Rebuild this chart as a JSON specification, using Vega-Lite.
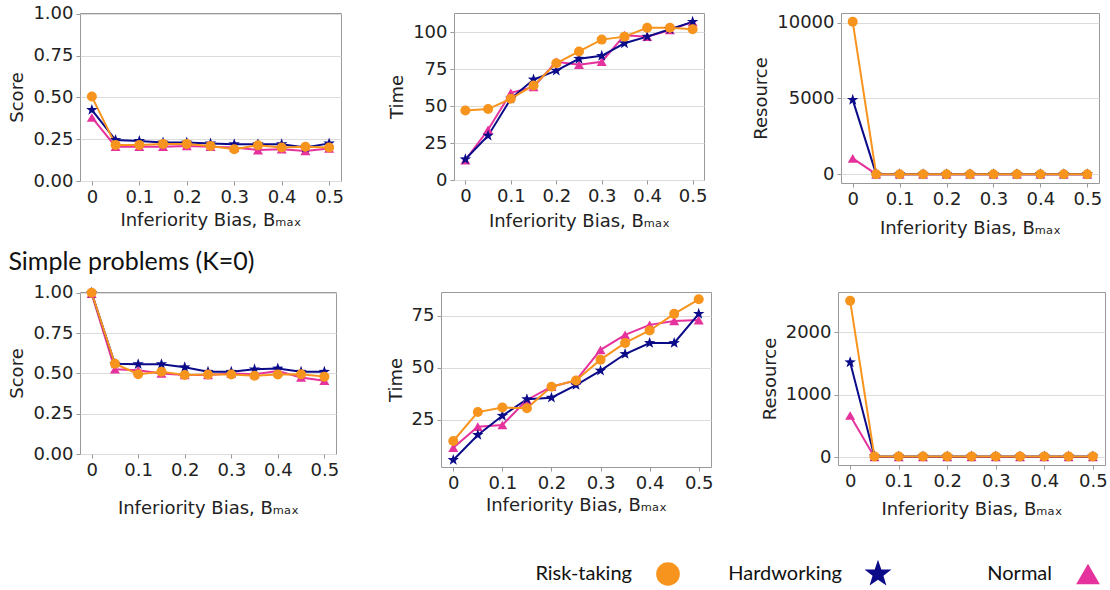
{
  "padding": {"left": 8, "top": 4, "right": 0, "bottom": 0},
  "data": {"values": [
    {"p": 1, "b": 0, "s": "Norm", "v": 0.38}, {"p": 1, "b": 0, "s": "Hard", "v": 0.425}, {"p": 1, "b": 0, "s": "Risk", "v": 0.505},
    {"p": 1, "b": 0.05, "s": "Norm", "v": 0.205}, {"p": 1, "b": 0.05, "s": "Hard", "v": 0.245}, {"p": 1, "b": 0.05, "s": "Risk", "v": 0.216},
    {"p": 1, "b": 0.1, "s": "Norm", "v": 0.205}, {"p": 1, "b": 0.1, "s": "Hard", "v": 0.24}, {"p": 1, "b": 0.1, "s": "Risk", "v": 0.216},
    {"p": 1, "b": 0.15, "s": "Norm", "v": 0.205}, {"p": 1, "b": 0.15, "s": "Hard", "v": 0.23}, {"p": 1, "b": 0.15, "s": "Risk", "v": 0.222},
    {"p": 1, "b": 0.2, "s": "Norm", "v": 0.21}, {"p": 1, "b": 0.2, "s": "Hard", "v": 0.23}, {"p": 1, "b": 0.2, "s": "Risk", "v": 0.222},
    {"p": 1, "b": 0.25, "s": "Norm", "v": 0.205}, {"p": 1, "b": 0.25, "s": "Hard", "v": 0.225}, {"p": 1, "b": 0.25, "s": "Risk", "v": 0.21},
    {"p": 1, "b": 0.3, "s": "Norm", "v": 0.2}, {"p": 1, "b": 0.3, "s": "Hard", "v": 0.22}, {"p": 1, "b": 0.3, "s": "Risk", "v": 0.19},
    {"p": 1, "b": 0.35, "s": "Norm", "v": 0.185}, {"p": 1, "b": 0.35, "s": "Hard", "v": 0.22}, {"p": 1, "b": 0.35, "s": "Risk", "v": 0.214},
    {"p": 1, "b": 0.4, "s": "Norm", "v": 0.19}, {"p": 1, "b": 0.4, "s": "Hard", "v": 0.22}, {"p": 1, "b": 0.4, "s": "Risk", "v": 0.2},
    {"p": 1, "b": 0.45, "s": "Norm", "v": 0.18}, {"p": 1, "b": 0.45, "s": "Hard", "v": 0.2}, {"p": 1, "b": 0.45, "s": "Risk", "v": 0.205},
    {"p": 1, "b": 0.5, "s": "Norm", "v": 0.195}, {"p": 1, "b": 0.5, "s": "Hard", "v": 0.225}, {"p": 1, "b": 0.5, "s": "Risk", "v": 0.2},

    {"p": 2, "b": 0, "s": "Norm", "v": 13.5}, {"p": 2, "b": 0, "s": "Hard", "v": 14}, {"p": 2, "b": 0, "s": "Risk", "v": 47},
    {"p": 2, "b": 0.05, "s": "Norm", "v": 34}, {"p": 2, "b": 0.05, "s": "Hard", "v": 30}, {"p": 2, "b": 0.05, "s": "Risk", "v": 48},
    {"p": 2, "b": 0.1, "s": "Norm", "v": 59}, {"p": 2, "b": 0.1, "s": "Hard", "v": 55}, {"p": 2, "b": 0.1, "s": "Risk", "v": 55},
    {"p": 2, "b": 0.15, "s": "Norm", "v": 63}, {"p": 2, "b": 0.15, "s": "Hard", "v": 68}, {"p": 2, "b": 0.15, "s": "Risk", "v": 64},
    {"p": 2, "b": 0.2, "s": "Norm", "v": 80}, {"p": 2, "b": 0.2, "s": "Hard", "v": 74}, {"p": 2, "b": 0.2, "s": "Risk", "v": 79},
    {"p": 2, "b": 0.25, "s": "Norm", "v": 78}, {"p": 2, "b": 0.25, "s": "Hard", "v": 82}, {"p": 2, "b": 0.25, "s": "Risk", "v": 87},
    {"p": 2, "b": 0.3, "s": "Norm", "v": 80}, {"p": 2, "b": 0.3, "s": "Hard", "v": 84}, {"p": 2, "b": 0.3, "s": "Risk", "v": 95},
    {"p": 2, "b": 0.35, "s": "Norm", "v": 98}, {"p": 2, "b": 0.35, "s": "Hard", "v": 92.5}, {"p": 2, "b": 0.35, "s": "Risk", "v": 97},
    {"p": 2, "b": 0.4, "s": "Norm", "v": 97}, {"p": 2, "b": 0.4, "s": "Hard", "v": 97}, {"p": 2, "b": 0.4, "s": "Risk", "v": 103},
    {"p": 2, "b": 0.45, "s": "Norm", "v": 101.5}, {"p": 2, "b": 0.45, "s": "Hard", "v": 102}, {"p": 2, "b": 0.45, "s": "Risk", "v": 103},
    {"p": 2, "b": 0.5, "s": "Norm", "v": 107}, {"p": 2, "b": 0.5, "s": "Hard", "v": 107}, {"p": 2, "b": 0.5, "s": "Risk", "v": 102},

    {"p": 3, "b": 0, "s": "Norm", "v": 1040}, {"p": 3, "b": 0, "s": "Hard", "v": 4900}, {"p": 3, "b": 0, "s": "Risk", "v": 10050},
    {"p": 3, "b": 0.05, "s": "Norm", "v": 0}, {"p": 3, "b": 0.05, "s": "Hard", "v": 0}, {"p": 3, "b": 0.05, "s": "Risk", "v": 0},
    {"p": 3, "b": 0.1, "s": "Norm", "v": 0}, {"p": 3, "b": 0.1, "s": "Hard", "v": 0}, {"p": 3, "b": 0.1, "s": "Risk", "v": 0},
    {"p": 3, "b": 0.15, "s": "Norm", "v": 0}, {"p": 3, "b": 0.15, "s": "Hard", "v": 0}, {"p": 3, "b": 0.15, "s": "Risk", "v": 0},
    {"p": 3, "b": 0.2, "s": "Norm", "v": 0}, {"p": 3, "b": 0.2, "s": "Hard", "v": 0}, {"p": 3, "b": 0.2, "s": "Risk", "v": 0},
    {"p": 3, "b": 0.25, "s": "Norm", "v": 0}, {"p": 3, "b": 0.25, "s": "Hard", "v": 0}, {"p": 3, "b": 0.25, "s": "Risk", "v": 0},
    {"p": 3, "b": 0.3, "s": "Norm", "v": 0}, {"p": 3, "b": 0.3, "s": "Hard", "v": 0}, {"p": 3, "b": 0.3, "s": "Risk", "v": 0},
    {"p": 3, "b": 0.35, "s": "Norm", "v": 0}, {"p": 3, "b": 0.35, "s": "Hard", "v": 0}, {"p": 3, "b": 0.35, "s": "Risk", "v": 0},
    {"p": 3, "b": 0.4, "s": "Norm", "v": 0}, {"p": 3, "b": 0.4, "s": "Hard", "v": 0}, {"p": 3, "b": 0.4, "s": "Risk", "v": 0},
    {"p": 3, "b": 0.45, "s": "Norm", "v": 0}, {"p": 3, "b": 0.45, "s": "Hard", "v": 0}, {"p": 3, "b": 0.45, "s": "Risk", "v": 0},
    {"p": 3, "b": 0.5, "s": "Norm", "v": 0}, {"p": 3, "b": 0.5, "s": "Hard", "v": 0}, {"p": 3, "b": 0.5, "s": "Risk", "v": 0},

    {"p": 4, "b": 0, "s": "Norm", "v": 0.995}, {"p": 4, "b": 0, "s": "Hard", "v": 1.0}, {"p": 4, "b": 0, "s": "Risk", "v": 1.0},
    {"p": 4, "b": 0.05, "s": "Norm", "v": 0.526}, {"p": 4, "b": 0.05, "s": "Hard", "v": 0.56}, {"p": 4, "b": 0.05, "s": "Risk", "v": 0.56},
    {"p": 4, "b": 0.1, "s": "Norm", "v": 0.52}, {"p": 4, "b": 0.1, "s": "Hard", "v": 0.557}, {"p": 4, "b": 0.1, "s": "Risk", "v": 0.495},
    {"p": 4, "b": 0.15, "s": "Norm", "v": 0.5}, {"p": 4, "b": 0.15, "s": "Hard", "v": 0.557}, {"p": 4, "b": 0.15, "s": "Risk", "v": 0.51},
    {"p": 4, "b": 0.2, "s": "Norm", "v": 0.49}, {"p": 4, "b": 0.2, "s": "Hard", "v": 0.538}, {"p": 4, "b": 0.2, "s": "Risk", "v": 0.49},
    {"p": 4, "b": 0.25, "s": "Norm", "v": 0.49}, {"p": 4, "b": 0.25, "s": "Hard", "v": 0.51}, {"p": 4, "b": 0.25, "s": "Risk", "v": 0.493},
    {"p": 4, "b": 0.3, "s": "Norm", "v": 0.5}, {"p": 4, "b": 0.3, "s": "Hard", "v": 0.51}, {"p": 4, "b": 0.3, "s": "Risk", "v": 0.493},
    {"p": 4, "b": 0.35, "s": "Norm", "v": 0.495}, {"p": 4, "b": 0.35, "s": "Hard", "v": 0.525}, {"p": 4, "b": 0.35, "s": "Risk", "v": 0.485},
    {"p": 4, "b": 0.4, "s": "Norm", "v": 0.515}, {"p": 4, "b": 0.4, "s": "Hard", "v": 0.53}, {"p": 4, "b": 0.4, "s": "Risk", "v": 0.493},
    {"p": 4, "b": 0.45, "s": "Norm", "v": 0.475}, {"p": 4, "b": 0.45, "s": "Hard", "v": 0.51}, {"p": 4, "b": 0.45, "s": "Risk", "v": 0.495},
    {"p": 4, "b": 0.5, "s": "Norm", "v": 0.455}, {"p": 4, "b": 0.5, "s": "Hard", "v": 0.51}, {"p": 4, "b": 0.5, "s": "Risk", "v": 0.48},

    {"p": 5, "b": 0, "s": "Norm", "v": 11.7}, {"p": 5, "b": 0, "s": "Hard", "v": 5.8}, {"p": 5, "b": 0, "s": "Risk", "v": 14.9},
    {"p": 5, "b": 0.05, "s": "Norm", "v": 21.8}, {"p": 5, "b": 0.05, "s": "Hard", "v": 17.8}, {"p": 5, "b": 0.05, "s": "Risk", "v": 28.8},
    {"p": 5, "b": 0.1, "s": "Norm", "v": 22.6}, {"p": 5, "b": 0.1, "s": "Hard", "v": 27}, {"p": 5, "b": 0.1, "s": "Risk", "v": 31},
    {"p": 5, "b": 0.15, "s": "Norm", "v": 34.6}, {"p": 5, "b": 0.15, "s": "Hard", "v": 35}, {"p": 5, "b": 0.15, "s": "Risk", "v": 30.6},
    {"p": 5, "b": 0.2, "s": "Norm", "v": 41}, {"p": 5, "b": 0.2, "s": "Hard", "v": 35.7}, {"p": 5, "b": 0.2, "s": "Risk", "v": 41},
    {"p": 5, "b": 0.25, "s": "Norm", "v": 44}, {"p": 5, "b": 0.25, "s": "Hard", "v": 41.8}, {"p": 5, "b": 0.25, "s": "Risk", "v": 44},
    {"p": 5, "b": 0.3, "s": "Norm", "v": 58.7}, {"p": 5, "b": 0.3, "s": "Hard", "v": 48.7}, {"p": 5, "b": 0.3, "s": "Risk", "v": 54},
    {"p": 5, "b": 0.35, "s": "Norm", "v": 65.9}, {"p": 5, "b": 0.35, "s": "Hard", "v": 56.7}, {"p": 5, "b": 0.35, "s": "Risk", "v": 62},
    {"p": 5, "b": 0.4, "s": "Norm", "v": 70.7}, {"p": 5, "b": 0.4, "s": "Hard", "v": 62}, {"p": 5, "b": 0.4, "s": "Risk", "v": 68},
    {"p": 5, "b": 0.45, "s": "Norm", "v": 72.6}, {"p": 5, "b": 0.45, "s": "Hard", "v": 62}, {"p": 5, "b": 0.45, "s": "Risk", "v": 76},
    {"p": 5, "b": 0.5, "s": "Norm", "v": 73}, {"p": 5, "b": 0.5, "s": "Hard", "v": 76}, {"p": 5, "b": 0.5, "s": "Risk", "v": 83},

    {"p": 6, "b": 0, "s": "Norm", "v": 667}, {"p": 6, "b": 0, "s": "Hard", "v": 1520}, {"p": 6, "b": 0, "s": "Risk", "v": 2507},
    {"p": 6, "b": 0.05, "s": "Norm", "v": 0}, {"p": 6, "b": 0.05, "s": "Hard", "v": 10}, {"p": 6, "b": 0.05, "s": "Risk", "v": 10},
    {"p": 6, "b": 0.1, "s": "Norm", "v": 0}, {"p": 6, "b": 0.1, "s": "Hard", "v": 10}, {"p": 6, "b": 0.1, "s": "Risk", "v": 10},
    {"p": 6, "b": 0.15, "s": "Norm", "v": 0}, {"p": 6, "b": 0.15, "s": "Hard", "v": 10}, {"p": 6, "b": 0.15, "s": "Risk", "v": 10},
    {"p": 6, "b": 0.2, "s": "Norm", "v": 0}, {"p": 6, "b": 0.2, "s": "Hard", "v": 10}, {"p": 6, "b": 0.2, "s": "Risk", "v": 10},
    {"p": 6, "b": 0.25, "s": "Norm", "v": 0}, {"p": 6, "b": 0.25, "s": "Hard", "v": 10}, {"p": 6, "b": 0.25, "s": "Risk", "v": 10},
    {"p": 6, "b": 0.3, "s": "Norm", "v": 0}, {"p": 6, "b": 0.3, "s": "Hard", "v": 10}, {"p": 6, "b": 0.3, "s": "Risk", "v": 10},
    {"p": 6, "b": 0.35, "s": "Norm", "v": 0}, {"p": 6, "b": 0.35, "s": "Hard", "v": 10}, {"p": 6, "b": 0.35, "s": "Risk", "v": 10},
    {"p": 6, "b": 0.4, "s": "Norm", "v": 0}, {"p": 6, "b": 0.4, "s": "Hard", "v": 10}, {"p": 6, "b": 0.4, "s": "Risk", "v": 10},
    {"p": 6, "b": 0.45, "s": "Norm", "v": 0}, {"p": 6, "b": 0.45, "s": "Hard", "v": 10}, {"p": 6, "b": 0.45, "s": "Risk", "v": 10},
    {"p": 6, "b": 0.5, "s": "Norm", "v": 0}, {"p": 6, "b": 0.5, "s": "Hard", "v": 10}, {"p": 6, "b": 0.5, "s": "Risk", "v": 10},

    {"p": 7, "b": 0, "s": "Risk", "v": 0, "label": "Risk-taking"},
    {"p": 7, "b": 0, "s": "Hard", "v": 0, "label": "Hardworking"},
    {"p": 7, "b": 0, "s": "Norm", "v": 0, "label": "Normal"}
  ]},
  "spacing": 12,
  "vconcat": [
    {
      "spacing": 44,
      "hconcat": [
        {
          "width": 261, "height": 168,
          "transform": [{"filter": "datum.p == 1"}],
          "encoding": {
            "x": {"field": "b", "type": "quantitative", "scale": {"domain": [-0.025, 0.525], "nice": false, "zero": false}, "axis": {"values": [0, 0.1, 0.2, 0.3, 0.4, 0.5], "format": "~g", "title": "Inferiority Bias, Bₘₐₓ", "titlePadding": 5}},
            "y": {"field": "v", "type": "quantitative", "scale": {"domain": [0, 1.005], "nice": false}, "axis": {"values": [0, 0.25, 0.5, 0.75, 1], "format": ".2f", "title": "Score"}},
            "color": {"field": "s", "type": "nominal", "scale": {"domain": ["Risk", "Hard", "Norm"], "range": ["#f7941d", "#0b0b8a", "#e6329c"]}, "legend": null}
          },
          "layer": [
            {"mark": {"type": "line", "strokeWidth": 2}, "encoding": {"x": {"field": "b", "type": "quantitative"}}},
            {"mark": {"type": "point", "filled": true, "opacity": 1, "size": 100},
             "encoding": {"shape": {"field": "s", "type": "nominal", "scale": {"domain": ["Risk", "Hard", "Norm"], "range": ["circle", "M0,-1.2L0.28,-0.39L1.14,-0.37L0.46,0.15L0.71,0.97L0,0.48L-0.71,0.97L-0.46,0.15L-1.14,-0.37L-0.28,-0.39Z", "triangle-up"]}, "legend": null}}}
          ]
        },
        {
          "width": 250, "height": 167,
          "transform": [{"filter": "datum.p == 2"}],
          "encoding": {
            "x": {"field": "b", "type": "quantitative", "scale": {"domain": [-0.025, 0.525], "nice": false, "zero": false}, "axis": {"values": [0, 0.1, 0.2, 0.3, 0.4, 0.5], "format": "~g", "title": "Inferiority Bias, Bₘₐₓ", "titlePadding": 7}},
            "y": {"field": "v", "type": "quantitative", "scale": {"domain": [0, 113], "nice": false}, "axis": {"values": [0, 25, 50, 75, 100], "format": "d", "title": "Time"}},
            "color": {"field": "s", "type": "nominal", "scale": {"domain": ["Risk", "Hard", "Norm"], "range": ["#f7941d", "#0b0b8a", "#e6329c"]}, "legend": null}
          },
          "layer": [
            {"mark": {"type": "line", "strokeWidth": 2}, "encoding": {"x": {"field": "b", "type": "quantitative"}}},
            {"mark": {"type": "point", "filled": true, "opacity": 1, "size": 100},
             "encoding": {"shape": {"field": "s", "type": "nominal", "scale": {"domain": ["Risk", "Hard", "Norm"], "range": ["circle", "M0,-1.2L0.28,-0.39L1.14,-0.37L0.46,0.15L0.71,0.97L0,0.48L-0.71,0.97L-0.46,0.15L-1.14,-0.37L-0.28,-0.39Z", "triangle-up"]}, "legend": null}}}
          ]
        },
        {
          "width": 258, "height": 170,
          "transform": [{"filter": "datum.p == 3"}],
          "encoding": {
            "x": {"field": "b", "type": "quantitative", "scale": {"domain": [-0.025, 0.525], "nice": false, "zero": false}, "axis": {"values": [0, 0.1, 0.2, 0.3, 0.4, 0.5], "format": "~g", "title": "Inferiority Bias, Bₘₐₓ", "titlePadding": 11}},
            "y": {"field": "v", "type": "quantitative", "scale": {"domain": [-583, 10630], "nice": false, "zero": false}, "axis": {"values": [0, 5000, 10000], "format": "d", "title": "Resource"}},
            "color": {"field": "s", "type": "nominal", "scale": {"domain": ["Risk", "Hard", "Norm"], "range": ["#f7941d", "#0b0b8a", "#e6329c"]}, "legend": null}
          },
          "layer": [
            {"mark": {"type": "line", "strokeWidth": 2}, "encoding": {"x": {"field": "b", "type": "quantitative"}}},
            {"mark": {"type": "point", "filled": true, "opacity": 1, "size": 100},
             "encoding": {"shape": {"field": "s", "type": "nominal", "scale": {"domain": ["Risk", "Hard", "Norm"], "range": ["circle", "M0,-1.2L0.28,-0.39L1.14,-0.37L0.46,0.15L0.71,0.97L0,0.48L-0.71,0.97L-0.46,0.15L-1.14,-0.37L-0.28,-0.39Z", "triangle-up"]}, "legend": null}}}
          ]
        }
      ]
    },
    {
      "spacing": 46,
      "title": {"text": "Simple problems (K=0)", "anchor": "start", "font": "Lato", "fontSize": 25, "fontWeight": "normal", "color": "#111", "offset": 8},
      "hconcat": [
        {
          "width": 256, "height": 162,
          "transform": [{"filter": "datum.p == 4"}],
          "encoding": {
            "x": {"field": "b", "type": "quantitative", "scale": {"domain": [-0.025, 0.525], "nice": false, "zero": false}, "axis": {"values": [0, 0.1, 0.2, 0.3, 0.4, 0.5], "format": "~g", "title": "Inferiority Bias, Bₘₐₓ", "titlePadding": 20}},
            "y": {"field": "v", "type": "quantitative", "scale": {"domain": [0, 1.005], "nice": false}, "axis": {"values": [0, 0.25, 0.5, 0.75, 1], "format": ".2f", "title": "Score"}},
            "color": {"field": "s", "type": "nominal", "scale": {"domain": ["Risk", "Hard", "Norm"], "range": ["#f7941d", "#0b0b8a", "#e6329c"]}, "legend": null}
          },
          "layer": [
            {"mark": {"type": "line", "strokeWidth": 2}, "encoding": {"x": {"field": "b", "type": "quantitative"}}},
            {"mark": {"type": "point", "filled": true, "opacity": 1, "size": 100},
             "encoding": {"shape": {"field": "s", "type": "nominal", "scale": {"domain": ["Risk", "Hard", "Norm"], "range": ["circle", "M0,-1.2L0.28,-0.39L1.14,-0.37L0.46,0.15L0.71,0.97L0,0.48L-0.71,0.97L-0.46,0.15L-1.14,-0.37L-0.28,-0.39Z", "triangle-up"]}, "legend": null}}}
          ]
        },
        {
          "width": 270, "height": 175,
          "transform": [{"filter": "datum.p == 5"}],
          "encoding": {
            "x": {"field": "b", "type": "quantitative", "scale": {"domain": [-0.025, 0.525], "nice": false, "zero": false}, "axis": {"values": [0, 0.1, 0.2, 0.3, 0.4, 0.5], "format": "~g", "title": "Inferiority Bias, Bₘₐₓ", "titlePadding": 4}},
            "y": {"field": "v", "type": "quantitative", "scale": {"domain": [2.4, 86.5], "nice": false, "zero": false}, "axis": {"values": [25, 50, 75], "format": "d", "title": "Time"}},
            "color": {"field": "s", "type": "nominal", "scale": {"domain": ["Risk", "Hard", "Norm"], "range": ["#f7941d", "#0b0b8a", "#e6329c"]}, "legend": null}
          },
          "layer": [
            {"mark": {"type": "line", "strokeWidth": 2}, "encoding": {"x": {"field": "b", "type": "quantitative"}}},
            {"mark": {"type": "point", "filled": true, "opacity": 1, "size": 100},
             "encoding": {"shape": {"field": "s", "type": "nominal", "scale": {"domain": ["Risk", "Hard", "Norm"], "range": ["circle", "M0,-1.2L0.28,-0.39L1.14,-0.37L0.46,0.15L0.71,0.97L0,0.48L-0.71,0.97L-0.46,0.15L-1.14,-0.37L-0.28,-0.39Z", "triangle-up"]}, "legend": null}}}
          ]
        },
        {
          "width": 267, "height": 173,
          "transform": [{"filter": "datum.p == 6"}],
          "encoding": {
            "x": {"field": "b", "type": "quantitative", "scale": {"domain": [-0.025, 0.525], "nice": false, "zero": false}, "axis": {"values": [0, 0.1, 0.2, 0.3, 0.4, 0.5], "format": "~g", "title": "Inferiority Bias, Bₘₐₓ", "titlePadding": 10}},
            "y": {"field": "v", "type": "quantitative", "scale": {"domain": [-128, 2648], "nice": false, "zero": false}, "axis": {"values": [0, 1000, 2000], "format": "d", "title": "Resource"}},
            "color": {"field": "s", "type": "nominal", "scale": {"domain": ["Risk", "Hard", "Norm"], "range": ["#f7941d", "#0b0b8a", "#e6329c"]}, "legend": null}
          },
          "layer": [
            {"mark": {"type": "line", "strokeWidth": 2}, "encoding": {"x": {"field": "b", "type": "quantitative"}}},
            {"mark": {"type": "point", "filled": true, "opacity": 1, "size": 100},
             "encoding": {"shape": {"field": "s", "type": "nominal", "scale": {"domain": ["Risk", "Hard", "Norm"], "range": ["circle", "M0,-1.2L0.28,-0.39L1.14,-0.37L0.46,0.15L0.71,0.97L0,0.48L-0.71,0.97L-0.46,0.15L-1.14,-0.37L-0.28,-0.39Z", "triangle-up"]}, "legend": null}}}
          ]
        }
      ]
    },
    {
      "width": 1008, "height": 50,
      "view": {"stroke": null},
      "transform": [{"filter": "datum.p == 7"}],
      "encoding": {
        "x": {"field": "s", "type": "nominal", "scale": {"type": "point", "domain": ["_a", "_b", "Risk", "Hard", "Norm"], "padding": 0.4, "align": 1}, "axis": null}
      },
      "layer": [
        {"mark": {"type": "point", "filled": true, "opacity": 1, "size": 560, "yOffset": 18},
         "encoding": {
           "color": {"field": "s", "type": "nominal", "scale": {"domain": ["Risk", "Hard", "Norm"], "range": ["#f7941d", "#0b0b8a", "#e6329c"]}, "legend": null},
           "shape": {"field": "s", "type": "nominal", "scale": {"domain": ["Risk", "Hard", "Norm"], "range": ["circle", "M0,-1.2L0.28,-0.39L1.14,-0.37L0.46,0.15L0.71,0.97L0,0.48L-0.71,0.97L-0.46,0.15L-1.14,-0.37L-0.28,-0.39Z", "triangle-up"]}, "legend": null}
         }},
        {"mark": {"type": "text", "align": "right", "baseline": "middle", "dx": -36, "dy": 18, "font": "Lato", "fontSize": 20, "color": "#111"},
         "encoding": {"text": {"field": "label"}}}
      ]
    }
  ],
  "config": {
    "font": "DejaVu Sans",
    "view": {"stroke": "#999", "strokeWidth": 1},
    "axis": {
      "labelFontSize": 18, "titleFontSize": 18, "titleFontWeight": "normal",
      "labelColor": "#222", "titleColor": "#222",
      "domain": false, "tickColor": "#999", "tickSize": 4,
      "gridColor": "#dcdcdc", "labelPadding": 3
    },
    "axisX": {"grid": false, "labelFlush": false},
    "axisY": {"grid": true, "titlePadding": 6}
  }
}
